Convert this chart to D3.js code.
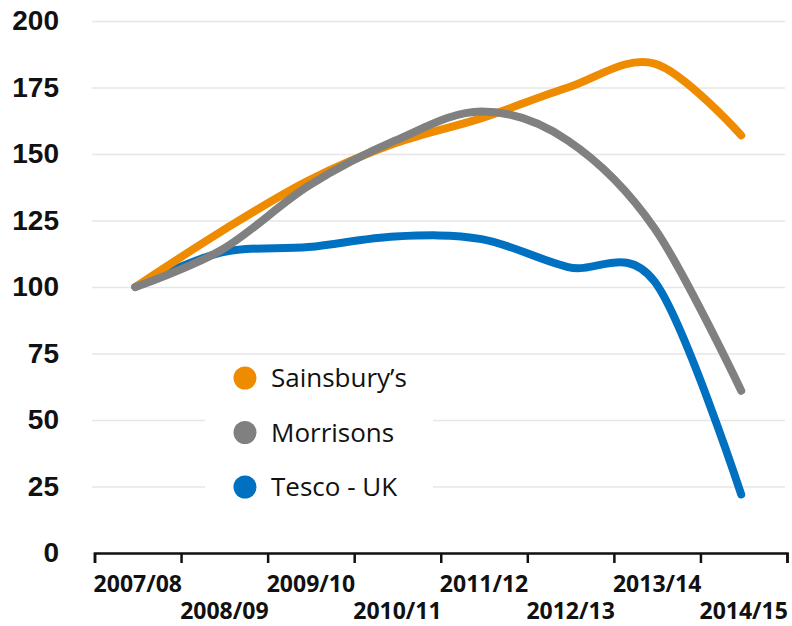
<!DOCTYPE html>
<html>
<head>
    <meta charset="utf-8">
    <title>Supermarket index</title>
    <style>
        body { margin: 0; background: #fff; }
        svg { display: block; font-family: "Open Sans", sans-serif; }
        .grid line { stroke: #e6e6e6; stroke-width: 1.5px; }
        .grid text { font-size: 28px; font-weight: bold; fill: #111; }
        .xaxis line, .xaxis path { stroke: #111; stroke-width: 2.5px; }
        .xlab { font-size: 23px; font-weight: bold; fill: #111; }
        .series { fill: none; stroke-width: 8px; stroke-linecap: round; stroke-linejoin: round; }
        .legend text { font-size: 26px; fill: #111; }
    </style>
    <script src="https://d3js.org/d3.v7.min.js"></script>
</head>
<body>
<script>
    var years = ["2007/08", "2008/09", "2009/10", "2010/11", "2011/12", "2012/13", "2013/14", "2014/15"];
    var sainsburys = [100, 121, 140, 154, 163.5, 175, 184, 157];
    var morrisons = [100, 114, 138, 155, 166, 155, 122, 61];
    var tesco = [100, 113, 115, 119, 118, 107.5, 102, 22];
    var yTicks = [0, 25, 50, 75, 100, 125, 150, 175, 200];

    var series = [
        { name: "Tesco - UK", values: tesco, color: "#0070c0" },
        { name: "Sainsbury\u2019s", values: sainsburys, color: "#ee8b00" },
        { name: "Morrisons", values: morrisons, color: "#808080" }
    ];
    var legendOrder = [series[1], series[2], series[0]];

    var w = 792, h = 626;
    var svg = d3.select("body").append("svg")
        .attr("width", w)
        .attr("height", h);

    var y = d3.scaleLinear().domain([0, 200]).range([553, 21]);
    // axis positions by slot index, ticks sit between the years
    var xi = d3.scaleLinear().domain([0, years.length]).range([94.5, 787]);

    // gridlines + y labels
    var grid = svg.append("g")
        .attr("class", "grid")
        .attr("transform", "translate(92,0)")
        .call(d3.axisLeft(y).tickValues(yTicks).tickSize(-693).tickPadding(33));
    grid.select(".domain").remove();

    // x axis
    svg.append("g")
        .attr("class", "xaxis")
        .attr("transform", "translate(0,553)")
        .call(d3.axisBottom(xi).tickValues(d3.range(years.length + 1)).tickSize(10).tickFormat(""));

    svg.selectAll(".xlab")
        .data(years)
        .enter()
        .append("text")
        .attr("class", "xlab")
        .attr("text-anchor", "middle")
        .attr("x", function (d, i) { return xi(i + 0.5); })
        .attr("y", function (d, i) { return i % 2 === 0 ? 592 : 618.5; })
        .text(function (d) { return d; });

    var line = d3.line()
        .x(function (d, i) { return xi(i + 0.5) - 2.5; })
        .y(function (d) { return y(d); })
        .curve(d3.curveCardinal.tension(0));

    svg.selectAll(".series")
        .data(series)
        .enter()
        .append("path")
        .attr("class", "series")
        .attr("stroke", function (d) { return d.color; })
        .attr("d", function (d) { return line(d.values); });

    // legend
    var legend = svg.append("g").attr("class", "legend");
    legend.append("rect")
        .attr("x", 205).attr("y", 358)
        .attr("width", 228).attr("height", 150)
        .attr("fill", "#fff");

    var items = legend.selectAll(".item")
        .data(legendOrder)
        .enter()
        .append("g")
        .attr("transform", function (d, i) { return "translate(245," + (378 + i * 54.5) + ")"; });
    items.append("circle")
        .attr("r", 11.5)
        .attr("fill", function (d) { return d.color; });
    items.append("text")
        .attr("x", 26)
        .attr("dy", "0.35em")
        .text(function (d) { return d.name; });
</script>
</body>
</html>
